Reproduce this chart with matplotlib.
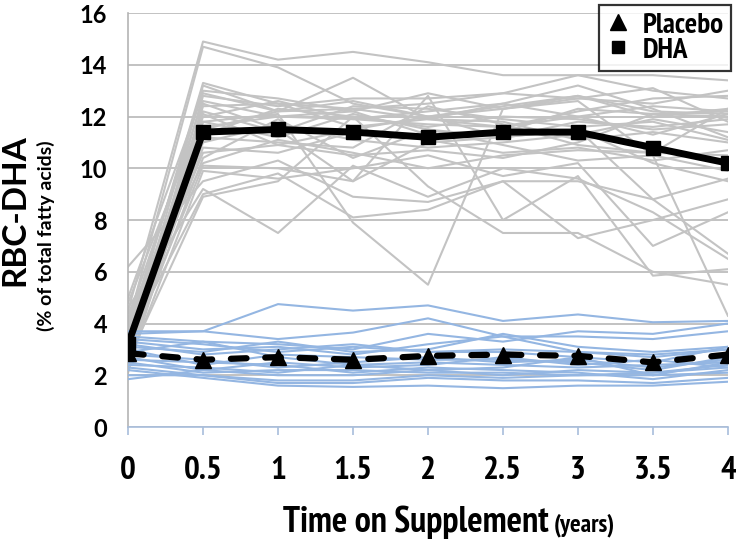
import matplotlib
matplotlib.use("Agg")
import matplotlib.pyplot as plt
from matplotlib import font_manager as fm
from matplotlib.lines import Line2D

years = [0, 0.5, 1, 1.5, 2, 2.5, 3, 3.5, 4]
x_tick_labels = ["0", "0.5", "1", "1.5", "2", "2.5", "3", "3.5", "4"]
y_ticks = [0, 2, 4, 6, 8, 10, 12, 14, 16]

dha_mean = [3.2, 11.4, 11.5, 11.4, 11.2, 11.4, 11.4, 10.8, 10.2]
placebo_mean = [2.85, 2.6, 2.7, 2.6, 2.75, 2.8, 2.75, 2.5, 2.8]

dha_individuals = [
    [4.5, 14.9, 14.2, 14.5, 14.1, 13.6, 13.6, 13.6, 13.4],
    [4.0, 14.7, 13.9, 12.5, 12.0, 12.3, 12.8, 12.0, 12.3],
    [3.5, 13.3, 12.5, 12.3, 12.5, 12.9, 13.6, 13.0, 12.7],
    [3.0, 13.2, 12.2, 13.5, 11.9, 12.5, 13.2, 12.3, 11.2],
    [3.8, 13.0, 12.7, 12.2, 12.9, 12.3, 12.7, 13.1, 11.8],
    [2.8, 12.8, 12.4, 12.7, 12.7, 12.9, 12.7, 12.5, 13.0],
    [4.2, 12.6, 12.0, 11.9, 12.2, 12.5, 12.0, 12.4, 12.2],
    [3.1, 12.4, 12.5, 11.6, 11.9, 11.6, 12.0, 11.3, 12.1],
    [2.5, 12.2, 11.4, 12.4, 12.3, 11.9, 11.6, 11.8, 11.1],
    [3.3, 12.0, 12.6, 11.9, 11.7, 11.6, 12.2, 12.7, 12.8],
    [3.6, 11.8, 11.2, 12.1, 11.5, 11.2, 11.8, 11.6, 11.9],
    [2.2, 11.5, 12.2, 12.3, 11.9, 11.8, 11.1, 11.4, 11.0],
    [4.1, 11.2, 11.0, 10.8, 12.4, 11.7, 10.9, 10.6, 12.3],
    [3.2, 11.0, 11.7, 11.1, 10.8, 11.0, 11.3, 11.9, 11.4],
    [2.9, 10.8, 10.6, 11.4, 11.1, 10.6, 10.8, 10.3, 10.7],
    [3.5, 10.6, 10.9, 10.5, 10.7, 10.4, 11.0, 12.1, 12.0],
    [2.7, 10.4, 11.9, 10.4, 11.5, 10.9, 10.3, 10.5, 9.9],
    [4.4, 10.2, 11.1, 10.6, 10.0, 10.5, 10.7, 10.6, 10.5],
    [3.0, 10.1, 10.0, 9.5, 11.0, 11.2, 11.5, 8.8, 6.7],
    [2.4, 9.9, 9.6, 10.0, 10.5, 9.7, 10.2, 7.0, 8.3],
    [6.2, 9.5, 10.3, 8.9, 8.7, 9.5, 9.5, 8.8, 9.6],
    [4.6, 9.2, 7.5, 10.1, 8.9, 10.0, 9.6, 8.3, 6.5],
    [3.4, 9.0, 9.8, 8.1, 8.4, 9.5, 7.3, 8.0, 8.8],
    [2.6, 8.9, 9.5, 12.0, 9.3, 7.5, 7.5, 6.0, 5.5],
    [3.9, 11.8, 12.1, 7.9, 5.5, 12.3, 12.6, 10.5, 4.3],
    [2.1, 12.5, 11.5, 9.5, 12.8, 8.0, 9.7, 5.85, 6.1],
    [5.0, 12.9, 12.2, 12.6, 12.0, 12.4, 12.8, 12.2, 12.1],
    [3.7, 11.3, 12.3, 12.0, 11.6, 12.0, 11.9, 11.5, 11.7],
    [4.8, 12.1, 10.9, 11.5, 12.0, 11.2, 11.5, 10.2, 9.5],
    [3.2, 11.6, 12.0, 12.2, 11.3, 11.4, 12.3, 12.1, 12.2],
]

placebo_individuals = [
    [3.7, 3.7, 4.75, 4.5, 4.7, 4.1, 4.35, 4.05, 4.1],
    [3.6, 3.7, 3.4, 3.65, 4.2, 3.5, 2.9, 2.7, 3.0],
    [3.5, 3.3, 3.2, 3.0, 3.6, 3.3, 3.7, 3.6, 4.0],
    [3.3, 3.0, 3.1, 2.8, 3.2, 3.5, 3.5, 3.4, 3.7],
    [3.2, 2.8, 3.0, 3.2, 2.9, 2.9, 2.7, 2.5, 3.1],
    [3.0, 2.4, 2.8, 2.7, 2.6, 2.6, 2.5, 2.2, 2.7],
    [2.9, 3.3, 2.7, 2.4, 2.5, 2.4, 2.3, 2.4, 2.5],
    [2.7, 2.2, 2.5, 2.3, 2.4, 2.7, 2.4, 2.6, 2.3],
    [2.6, 2.5, 2.4, 2.1, 2.3, 2.2, 2.1, 1.85, 2.2],
    [2.5, 2.1, 2.2, 2.2, 2.1, 2.1, 2.0, 2.1, 2.4],
    [2.3, 2.0, 1.8, 1.8, 2.0, 1.9, 2.0, 2.0, 2.1],
    [2.2, 1.9, 1.6, 1.55, 1.6, 1.5, 1.6, 1.6, 1.75],
    [2.0, 2.0, 1.7, 1.7, 1.9, 1.8, 1.8, 1.7, 1.9],
    [1.85, 2.2, 2.0, 2.0, 2.2, 2.0, 2.2, 2.1, 2.3],
    [3.4, 3.2, 2.9, 3.1, 2.9, 3.0, 2.9, 2.8, 3.0],
    [2.8, 2.6, 2.3, 2.5, 2.7, 2.5, 2.6, 2.3, 2.6],
    [3.1, 2.9, 3.3, 2.9, 3.0, 3.6, 3.1, 2.9, 3.1],
    [2.4, 2.3, 2.1, 2.4, 2.2, 2.3, 2.7, 2.0, 2.5],
]

# look for a narrow bold sans font (Arial Narrow look-alike)
narrow_path = None
for f in fm.fontManager.ttflist:
    fn = f.fname.lower()
    if "narrow" in (f.name + fn).lower() and "bold" in fn and "italic" not in fn:
        narrow_path = f.fname
        break


def nprop(size):
    if narrow_path:
        return fm.FontProperties(fname=narrow_path, size=size)
    return fm.FontProperties(family=["Liberation Sans", "DejaVu Sans"],
                             weight="bold", size=size * 0.82)


CAL = ["Lato", "DejaVu Sans"]

fig = plt.figure(figsize=(7.36, 5.45), dpi=100)
ax = fig.add_axes([0.174, 0.2165, 0.815, 0.7595])

for ys in dha_individuals:
    ax.plot(years, ys, color="#c3c3c3", lw=1.5, zorder=2)
for ys in placebo_individuals:
    ax.plot(years, ys, color="#94b6e2", lw=1.5, zorder=3)

ax.plot(years, dha_mean, color="black", lw=5, marker="s", ms=10, zorder=5,
        solid_joinstyle="miter")
ax.plot(years, placebo_mean, color="black", lw=4.5, ls=(0, (2.5, 3.0)),
        dash_capstyle="round", marker="^", ms=11, zorder=5)

ax.set_xlim(0, 4)
ax.set_ylim(0, 16)
ax.set_xticks(years)
ax.set_xticklabels(x_tick_labels)
ax.set_yticks(y_ticks)
ax.yaxis.grid(True, color="#b8b8b8", lw=1.2, zorder=0)
ax.set_axisbelow(True)
for s in ["top", "right"]:
    ax.spines[s].set_visible(False)
ax.spines["left"].set_color("#b4b4b4")
ax.spines["left"].set_linewidth(1.2)
ax.spines["bottom"].set_color("#a8bedc")
ax.spines["bottom"].set_linewidth(1.2)
ax.tick_params(axis="y", length=0, pad=15)
ax.tick_params(axis="x", length=6, color="#a8bedc", width=1.2, direction="out", pad=15)
for t in ax.get_xticklabels():
    t.set_fontproperties(nprop(24))
for t in ax.get_yticklabels():
    t.set_fontfamily(CAL)
    t.set_fontweight("bold")
    t.set_fontsize(17)

fig.text(0.02, 0.615, "RBC-DHA", rotation=90, ha="center", va="center",
         fontsize=24, fontweight="bold", family=CAL)
fig.text(0.063, 0.568, "(% of total fatty acids)", rotation=90, ha="center",
         va="center", fontsize=14, fontweight="bold", family=CAL)

fig.text(0.745, 0.024, "Time on Supplement", ha="right", va="baseline",
         fontproperties=nprop(26))
fig.text(0.753, 0.024, "(years)", ha="left", va="baseline",
         fontproperties=nprop(18))

handles = [
    Line2D([], [], color="black", marker="^", ls="none", ms=12),
    Line2D([], [], color="black", marker="s", ls="none", ms=9),
]
leg = fig.legend(handles, ["Placebo", "DHA"], loc="upper right",
                 bbox_to_anchor=(731 / 736, 1 - 5 / 545),
                 bbox_transform=fig.transFigure, borderaxespad=0,
                 frameon=True, fancybox=False, edgecolor="black",
                 handlelength=0.8, handletextpad=0.45, borderpad=0.25,
                 labelspacing=-0.05, prop=nprop(21))
leg.get_frame().set_linewidth(1.6)
leg.set_zorder(10)

fig.savefig("out.png", dpi=100, facecolor="white")
